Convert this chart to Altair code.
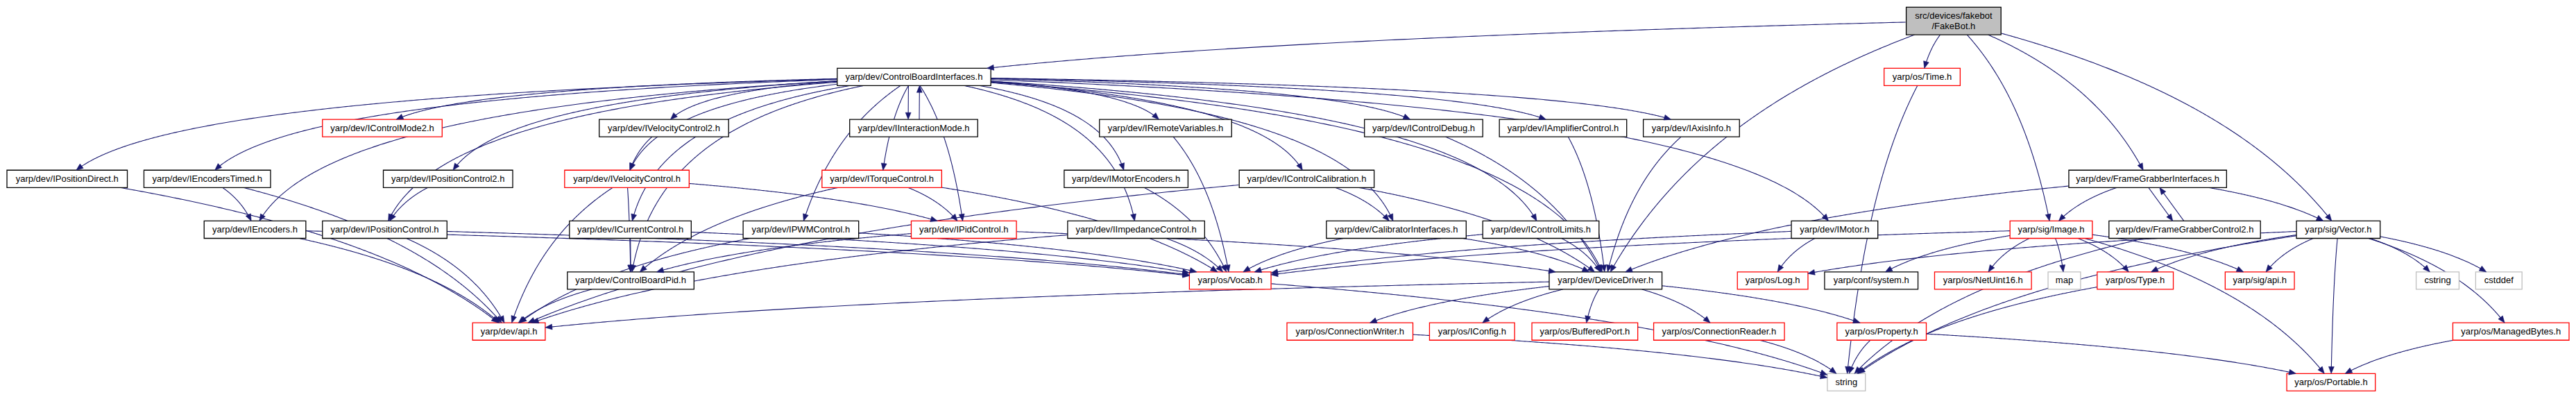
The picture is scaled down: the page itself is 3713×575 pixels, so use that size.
import altair as alt
import numpy as np
import pandas as pd

# ---------------- data ----------------
keys = ["FakeBot", "CBI", "Time",
        "IControlMode2", "IVelocityControl2", "IInteractionMode", "IRemoteVariables",
        "IControlDebug", "IAmplifierControl", "IAxisInfo",
        "IPositionDirect", "IEncodersTimed", "IPositionControl2", "IVelocityControl",
        "ITorqueControl", "IMotorEncoders", "IControlCalibration", "FGI",
        "IEncoders", "IPositionControl", "ICurrentControl", "IPWMControl", "IPidControl",
        "IImpedanceControl", "CalibratorInterfaces", "IControlLimits", "IMotor", "Image",
        "FGC2", "Vector",
        "ControlBoardPid", "Vocab", "DeviceDriver", "Log", "system", "NetUint16", "map",
        "Type", "sigapi", "cstring", "cstddef",
        "devapi", "ConnectionWriter", "IConfig", "BufferedPort", "ConnectionReader",
        "Property", "ManagedBytes",
        "string", "Portable"]

labels = ["src/devices/fakebot\n/FakeBot.h", "yarp/dev/ControlBoardInterfaces.h", "yarp/os/Time.h",
          "yarp/dev/IControlMode2.h", "yarp/dev/IVelocityControl2.h", "yarp/dev/IInteractionMode.h",
          "yarp/dev/IRemoteVariables.h", "yarp/dev/IControlDebug.h", "yarp/dev/IAmplifierControl.h",
          "yarp/dev/IAxisInfo.h",
          "yarp/dev/IPositionDirect.h", "yarp/dev/IEncodersTimed.h", "yarp/dev/IPositionControl2.h",
          "yarp/dev/IVelocityControl.h", "yarp/dev/ITorqueControl.h", "yarp/dev/IMotorEncoders.h",
          "yarp/dev/IControlCalibration.h", "yarp/dev/FrameGrabberInterfaces.h",
          "yarp/dev/IEncoders.h", "yarp/dev/IPositionControl.h", "yarp/dev/ICurrentControl.h",
          "yarp/dev/IPWMControl.h", "yarp/dev/IPidControl.h", "yarp/dev/IImpedanceControl.h",
          "yarp/dev/CalibratorInterfaces.h", "yarp/dev/IControlLimits.h", "yarp/dev/IMotor.h",
          "yarp/sig/Image.h", "yarp/dev/FrameGrabberControl2.h", "yarp/sig/Vector.h",
          "yarp/dev/ControlBoardPid.h", "yarp/os/Vocab.h", "yarp/dev/DeviceDriver.h", "yarp/os/Log.h",
          "yarp/conf/system.h", "yarp/os/NetUint16.h", "map", "yarp/os/Type.h", "yarp/sig/api.h",
          "cstring", "cstddef",
          "yarp/dev/api.h", "yarp/os/ConnectionWriter.h", "yarp/os/IConfig.h", "yarp/os/BufferedPort.h",
          "yarp/os/ConnectionReader.h", "yarp/os/Property.h", "yarp/os/ManagedBytes.h",
          "string", "yarp/os/Portable.h"]

kinds = ["root", "doc", "trunc",
         "trunc", "doc", "doc", "doc", "doc", "doc", "doc",
         "doc", "doc", "doc", "trunc", "trunc", "doc", "doc", "doc",
         "doc", "doc", "doc", "doc", "trunc", "doc", "doc", "doc", "doc", "trunc", "doc", "doc",
         "doc", "trunc", "doc", "trunc", "doc", "trunc", "ext", "trunc", "trunc", "ext", "ext",
         "trunc", "trunc", "trunc", "trunc", "trunc", "trunc", "trunc",
         "ext", "trunc"]

# ---------------- layout (box extents, rank) ----------------
x_left = [2750, 1205, 2718,
          461, 861, 1223, 1584, 1967, 2162, 2370,
          5, 203, 549, 811, 1183, 1533, 1786, 2985,
          290, 461, 818, 1069, 1312, 1538, 1912, 2138, 2584, 2900, 3043, 3314,
          815, 1714, 2234, 2506, 2632, 2791, 2955, 3026, 3211, 3487, 3573,
          678, 1855, 2061, 2209, 2385, 2650, 3540,
          2636, 3300]
x_right = [2887, 1427, 2828,
           634, 1048, 1408, 1775, 2138, 2346, 2509,
           179, 386, 736, 991, 1356, 1712, 1981, 3213,
           437, 641, 994, 1236, 1464, 1736, 2114, 2306, 2709, 3019, 3262, 3435,
           998, 1832, 2397, 2608, 2767, 2931, 3002, 3136, 3311, 3549, 3640,
           783, 2037, 2184, 2362, 2574, 2779, 3708,
           2691, 3428]
rank = [0, 1, 1,
        2, 2, 2, 2, 2, 2, 2,
        3, 3, 3, 3, 3, 3, 3, 3,
        4, 4, 4, 4, 4, 4, 4, 4, 4, 4, 4, 4,
        5, 5, 5, 5, 5, 5, 5, 5, 5, 5, 5,
        6, 6, 6, 6, 6, 6, 6,
        7, 7]
rank_top = [5.5, 95, 170, 244.5, 319, 393.7, 468.4, 542.8]
rank_height = [40.3, 25.5, 25.5, 25.5, 25.5, 25.5, 25.5, 25.5]

# ---------------- include edges (includer -> included) ----------------
edge_src = (["FakeBot"] * 6 + ["CBI"] * 25 +
            ["IInteractionMode", "IPositionDirect", "IEncodersTimed", "IEncodersTimed",
             "IEncoders", "IEncoders", "IPositionControl2", "IPositionControl", "IPositionControl",
             "IVelocityControl2", "IVelocityControl", "IVelocityControl", "IVelocityControl",
             "ITorqueControl", "ITorqueControl", "ITorqueControl", "ICurrentControl", "ICurrentControl",
             "IPWMControl", "IPWMControl", "ControlBoardPid", "IPidControl", "IPidControl",
             "IImpedanceControl", "IImpedanceControl", "IMotorEncoders", "IRemoteVariables",
             "IControlCalibration", "IControlCalibration", "IControlCalibration",
             "CalibratorInterfaces", "CalibratorInterfaces", "IControlLimits", "IControlLimits",
             "IControlDebug", "IAmplifierControl", "IAxisInfo", "IMotor", "IMotor",
             "DeviceDriver", "DeviceDriver", "DeviceDriver", "DeviceDriver", "DeviceDriver", "DeviceDriver",
             "Vocab", "Time",
             "Image", "Image", "Image", "Image", "Image", "Image", "Image",
             "Vector", "Vector", "Vector", "Vector", "Vector", "Vector", "Vector", "Vector",
             "FGI", "FGI", "FGI", "FGI", "FGC2", "FGC2",
             "ManagedBytes", "Type", "Property", "Property", "ConnectionReader", "ConnectionWriter"])
edge_dst = (["CBI", "Time", "DeviceDriver", "Image", "FGI", "Vector"] +
            ["IPositionDirect", "IEncodersTimed", "IEncoders", "IControlMode2", "IPositionControl",
             "IPositionControl2", "IVelocityControl2", "IVelocityControl", "ControlBoardPid",
             "ICurrentControl", "IPWMControl", "ITorqueControl", "IInteractionMode", "IPidControl",
             "IImpedanceControl", "IMotorEncoders", "IRemoteVariables", "IControlCalibration",
             "CalibratorInterfaces", "IControlLimits", "IControlDebug", "IAmplifierControl",
             "IAxisInfo", "IMotor", "DeviceDriver"] +
            ["CBI", "devapi", "IEncoders", "devapi",
             "devapi", "Vocab", "IPositionControl", "devapi", "Vocab",
             "IVelocityControl", "devapi", "ControlBoardPid", "IPidControl",
             "ControlBoardPid", "IPidControl", "Vocab", "ControlBoardPid", "Vocab",
             "devapi", "Vocab", "devapi", "ControlBoardPid", "DeviceDriver",
             "Vocab", "devapi", "Vocab", "Vocab",
             "CalibratorInterfaces", "DeviceDriver", "devapi",
             "DeviceDriver", "Vocab", "DeviceDriver", "Vocab",
             "DeviceDriver", "DeviceDriver", "DeviceDriver", "Log", "Vocab",
             "devapi", "ConnectionWriter", "IConfig", "BufferedPort", "ConnectionReader", "Property",
             "string", "string",
             "Vocab", "system", "NetUint16", "map", "Type", "sigapi", "Portable",
             "Log", "Type", "sigapi", "Portable", "string", "cstring", "cstddef", "ManagedBytes",
             "Image", "FGC2", "Vector", "DeviceDriver", "FGI", "string",
             "Portable", "string", "string", "Portable", "string", "string"])

# ---------------- styles ----------------
EDGE_COLOR = "#191970"
STROKE = {"root": "#000000", "doc": "#000000", "trunc": "#ff0000", "ext": "#bfbfbf"}
FILL = {"root": "#bfbfbf", "doc": "#ffffff", "trunc": "#ffffff", "ext": "#ffffff"}
ARROW_LEN = 10.0
HUB = "CBI"   # edges leaving the hub fan out sideways first, as dot routes them

# ---------------- build node table ----------------
idx = {k: i for i, k in enumerate(keys)}
boxes = []
for i, k in enumerate(keys):
    y0 = rank_top[rank[i]]
    y1 = y0 + rank_height[rank[i]]
    boxes.append((x_left[i], x_right[i], y0, y1))

nodes = pd.DataFrame({
    "key": keys,
    "x0": [b[0] for b in boxes], "x1": [b[1] for b in boxes],
    "y0": [b[2] for b in boxes], "y1": [b[3] for b in boxes],
    "stroke": [STROKE[k] for k in kinds], "fill": [FILL[k] for k in kinds],
})

text_rows = []
for i, lab in enumerate(labels):
    parts = lab.split("\n")
    cx = (boxes[i][0] + boxes[i][1]) / 2
    cy = (boxes[i][2] + boxes[i][3]) / 2
    for j, p in enumerate(parts):
        text_rows.append({"x": cx, "y": cy + (j - (len(parts) - 1) / 2) * 15.0, "t": p})
texts = pd.DataFrame(text_rows)

# ---------------- edge geometry (graphviz-like splines, clipped at boxes) ----------------
def bez(P0, P1, P2, P3, n=2000):
    t = np.linspace(0, 1, n)[:, None]
    return (1 - t) ** 3 * P0 + 3 * (1 - t) ** 2 * t * P1 + 3 * (1 - t) * t ** 2 * P2 + t ** 3 * P3

def inside(b, pts):
    return (pts[:, 0] >= b[0]) & (pts[:, 0] <= b[1]) & (pts[:, 1] >= b[2]) & (pts[:, 1] <= b[3])

pairs = set(zip(edge_src, edge_dst))
line_rows, arrow_rows = [], []
for e, (s, d) in enumerate(zip(edge_src, edge_dst)):
    sb, tb = boxes[idx[s]], boxes[idx[d]]
    sx, sy = (sb[0] + sb[1]) / 2, (sb[2] + sb[3]) / 2
    tx, ty = (tb[0] + tb[1]) / 2, (tb[2] + tb[3]) / 2
    P0, P3 = np.array([sx, sy]), np.array([tx, ty])
    dx, dy = tx - sx, ty - sy
    if (d, s) in pairs:
        off = -8.0 if sy < ty else 8.0
        P0 = P0 + np.array([off, 0.0])
        P3 = P3 + np.array([off, 0.0])
        P1 = P0 + (P3 - P0) / 3
        P2 = P0 + 2 * (P3 - P0) / 3
    elif s == HUB and abs(dx) > 250:
        P1 = np.array([sx + 0.6 * dx, sy + 0.12 * dy])
        P2 = np.array([tx - 0.06 * dx, ty - 0.6 * dy])
    else:
        P1 = np.array([sx + 0.45 * dx, sy + 0.2 * dy])
        P2 = np.array([tx - 0.2 * dx, ty - 0.5 * dy])
    pts = bez(P0, P1, P2, P3)
    ins_s = inside(sb, pts)
    i0 = int(np.argmax(~ins_s))
    ins_t = inside(tb, pts)
    rest = ins_t[i0:]
    j = i0 + int(np.argmax(rest)) if rest.any() else len(pts) - 1
    tip = pts[j]
    back = pts[max(i0, j - 20)]
    v = tip - back
    nv = np.linalg.norm(v)
    v = v / nv if nv > 0 else np.array([0.0, 1.0])
    seg = pts[i0:j + 1]
    keep = np.linalg.norm(seg - tip, axis=1) >= ARROW_LEN - 1
    seg = seg[keep]
    seg = np.vstack([seg[::6], seg[-1:], (tip - v * (ARROW_LEN - 1))[None, :]])
    for k, p in enumerate(seg):
        line_rows.append({"e": e, "k": k, "x": float(p[0]), "y": float(p[1])})
    c = tip - v * (ARROW_LEN / 2)
    ang = (np.degrees(np.arctan2(v[0], -v[1])) + 360.0) % 360.0
    arrow_rows.append({"x": float(c[0]), "y": float(c[1]), "ang": float(ang)})

lines = pd.DataFrame(line_rows)
arrows = pd.DataFrame(arrow_rows)

# ---------------- chart ----------------
W, H = 3697, 559
xs = alt.Scale(domain=[3, 3710], nice=False, zero=False)
ys = alt.Scale(domain=[3, 572], nice=False, zero=False, reverse=True)

edge_layer = alt.Chart(lines).mark_line(color=EDGE_COLOR, strokeWidth=1.1, interpolate="linear").encode(
    x=alt.X("x:Q", scale=xs, axis=None),
    y=alt.Y("y:Q", scale=ys, axis=None),
    detail="e:N",
    order="k:Q",
)

node_layer = alt.Chart(nodes).mark_rect(strokeWidth=1.3).encode(
    x=alt.X("x0:Q", scale=xs, axis=None),
    x2="x1:Q",
    y=alt.Y("y0:Q", scale=ys, axis=None),
    y2="y1:Q",
    fill=alt.Fill("fill:N", scale=None),
    stroke=alt.Stroke("stroke:N", scale=None),
)

arrow_layer = alt.Chart(arrows).mark_point(
    shape="M0,-1L0.8,1L-0.8,1Z", filled=True, size=100, opacity=1,
    color=EDGE_COLOR, strokeWidth=0.5, stroke=EDGE_COLOR,
).encode(
    x=alt.X("x:Q", scale=xs, axis=None),
    y=alt.Y("y:Q", scale=ys, axis=None),
    angle=alt.Angle("ang:Q", scale=None),
)

text_layer = alt.Chart(texts).mark_text(
    font="Liberation Sans", fontSize=13, color="#000000", align="center", baseline="middle",
).encode(
    x=alt.X("x:Q", scale=xs, axis=None),
    y=alt.Y("y:Q", scale=ys, axis=None),
    text="t:N",
)

chart = alt.layer(edge_layer, node_layer, arrow_layer, text_layer).properties(
    width=W, height=H, padding=0, background="#ffffff"
).configure_view(stroke=None)

chart.save("out.html", embed_options={"renderer": "svg", "actions": False})
